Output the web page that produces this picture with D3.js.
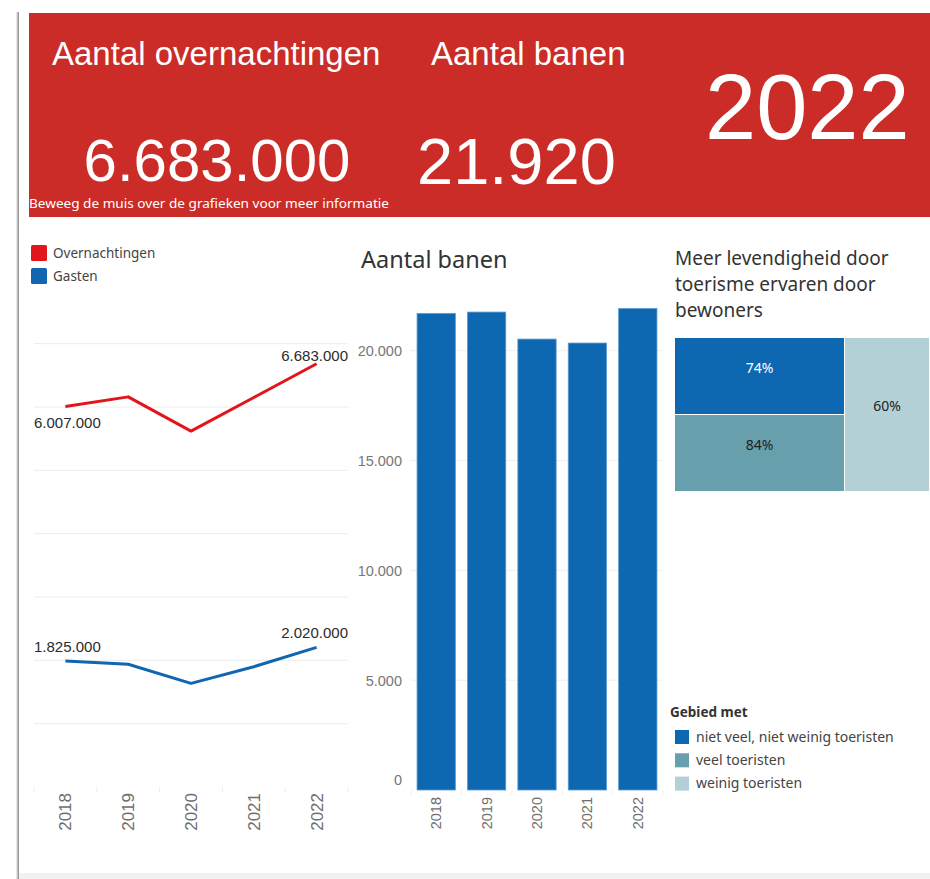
<!DOCTYPE html>
<html><head><meta charset="utf-8">
<script src="https://cdn.jsdelivr.net/npm/d3@7"></script>
<style>body{margin:0;background:#fff;} svg{display:block}</style>
</head><body><svg id="c" width="930" height="879"></svg>
<script>
// ---------- data ----------
const years = ["2018", "2019", "2020", "2021", "2022"];
const overnachtingen = [6007000, 6160000, 5620000, 6150000, 6683000];
const gasten = [1825000, 1776000, 1500000, 1741000, 2020000];
const banen = [21700, 21760, 20530, 20350, 21920];
const banenTicks = [0, 5000, 10000, 15000, 20000];
const lineGridValues = [1000000, 2000000, 3000000, 4000000, 5000000, 6000000, 7000000];
const seriesNames = ["Overnachtingen", "Gasten"];
const treemapCategories = ["niet veel, niet weinig toeristen", "veel toeristen", "weinig toeristen"];
const treemapValues = [0.74, 0.84, 0.60];
const kpiTitles = ["Aantal overnachtingen", "Aantal banen"];
const kpiValues = [6683000, 21920];
const selectedYear = "2022";
const headerNote = "Beweeg de muis over de grafieken voor meer informatie";
const barTitle = "Aantal banen";
const treemapTitle = ["Meer levendigheid door", "toerisme ervaren door", "bewoners"];
const legendTitle = "Gebied met";

// ---------- setup ----------
const nl = d3.formatLocale({decimal: ",", thousands: ".", grouping: [3], currency: ["€", ""]});
const fmt = nl.format(",d");
const pct = nl.format(".0%");
const svg = d3.select("#c");
const ARIAL = "'Liberation Sans', Arial, sans-serif";
const TAB = "'Noto Sans', Lato, sans-serif";
const RED = "#e2141c", BLUE = "#1265b0";

// page frame
svg.append("rect").attr("x", 0).attr("y", 0).attr("width", 930).attr("height", 879).attr("fill", "#fff");
svg.append("rect").attr("x", 16.5).attr("y", 12).attr("width", 1).attr("height", 867).attr("fill", "#cfcfcf");
svg.append("rect").attr("x", 17.5).attr("y", 12).attr("width", 1.5).attr("height", 867).attr("fill", "#9a9a9a");
svg.append("rect").attr("x", 19).attr("y", 873).attr("width", 911).attr("height", 6).attr("fill", "#f1f1f1");

// ---------- header ----------
svg.append("rect").attr("x", 29).attr("y", 13).attr("width", 901).attr("height", 204).attr("fill", "#cb2c27");
const hdr = svg.append("g").attr("fill", "#fff").attr("font-family", ARIAL);
hdr.append("text").attr("x", 52).attr("y", 65).attr("font-size", 33).text(kpiTitles[0]);
hdr.append("text").attr("x", 431).attr("y", 65).attr("font-size", 33).text(kpiTitles[1]);
hdr.append("text").attr("x", 217).attr("y", 181).attr("text-anchor", "middle").attr("font-size", 60).text(fmt(kpiValues[0]));
hdr.append("text").attr("x", 417).attr("y", 184).attr("font-size", 65).text(fmt(kpiValues[1]));
hdr.append("text").attr("x", 705).attr("y", 139).attr("font-size", 92).text(selectedYear);
hdr.append("text").attr("x", 29).attr("y", 207.5).attr("font-size", 12.5).attr("font-family", TAB)
  .attr("textLength", 360).attr("lengthAdjust", "spacingAndGlyphs").text(headerNote);

// ---------- line chart ----------
const xL = d3.scaleBand().domain(years).range([34, 348]);
const yRed = d3.scaleLinear().domain([0, 7200000]).range([787, 331]);
const yBlue = d3.scaleLinear().domain([0, 6600000]).range([787, 331]);
const gL = svg.append("g");
gL.selectAll("line.grid").data(lineGridValues).join("line")
  .attr("x1", 34).attr("x2", 348).attr("y1", d => yRed(d)).attr("y2", d => yRed(d))
  .attr("stroke", "#ececec").attr("stroke-width", 1);
// x axis
const axL = gL.append("g").attr("transform", "translate(0,788)")
  .call(d3.axisBottom(xL).tickSize(0).tickPadding(6));
axL.select(".domain").remove();
axL.selectAll("text").attr("transform", "rotate(-90)").attr("text-anchor", "end")
  .attr("x", -5).attr("y", 0).attr("dy", "0.35em")
  .attr("font-family", ARIAL).attr("font-size", 17).attr("fill", "#6e6e6e");
gL.selectAll("line.sep").data(years.concat(["end"])).join("line")
  .attr("x1", (d, i) => 34 + i * xL.step()).attr("x2", (d, i) => 34 + i * xL.step())
  .attr("y1", 787).attr("y2", 792).attr("stroke", "#eeeeee");

const series = [
  {name: seriesNames[0], values: overnachtingen, y: yRed, color: RED, place: ["below", "above"], up: 3},
  {name: seriesNames[1], values: gasten, y: yBlue, color: BLUE, place: ["above", "above"], up: 9}
];
const line = (s) => d3.line().x((d, i) => xL(years[i]) + xL.bandwidth() / 2).y(d => s.y(d));
series.forEach(s => {
  gL.append("path").datum(s.values).attr("d", line(s)).attr("fill", "none")
    .attr("stroke", s.color).attr("stroke-width", 3).attr("stroke-linejoin", "round");
  [0, s.values.length - 1].forEach((idx, k) => {
    const px = xL(years[idx]) + xL.bandwidth() / 2, py = s.y(s.values[idx]);
    const t = gL.append("text").attr("font-family", ARIAL).attr("font-size", 15).attr("fill", "#2b2b2b")
      .text(fmt(s.values[idx]));
    const w = t.node().getComputedTextLength();
    let x0 = Math.max(34, Math.min(348 - w, px - w / 2));
    t.attr("x", x0).attr("y", s.place[k] === "below" ? py + 21 : py - s.up);
  });
});
// legend
const lg = svg.append("g");
series.forEach((s, i) => {
  lg.append("rect").attr("x", 31).attr("y", 245 + i * 23).attr("width", 16).attr("height", 16).attr("rx", 1.5).attr("fill", s.color);
  lg.append("text").attr("x", 53).attr("y", 258 + i * 23).attr("font-family", TAB).attr("font-size", 13.5)
    .attr("fill", "#444").text(s.name);
});

// ---------- bar chart ----------
const xB = d3.scaleBand().domain(years).range([411, 663]).paddingInner(0.24).paddingOuter(0.12);
const yB = d3.scaleLinear().domain([0, 22300]).range([790, 300.2]);
const gB = svg.append("g");
gB.append("text").attr("x", 361).attr("y", 268).attr("font-family", TAB).attr("font-size", 23.5)
  .attr("fill", "#333").text(barTitle);
gB.selectAll("line.grid").data(banenTicks.slice(1)).join("line")
  .attr("x1", 410).attr("x2", 663).attr("y1", d => yB(d)).attr("y2", d => yB(d)).attr("stroke", "#efefef");
const ayB = gB.append("g").attr("transform", "translate(404,0)")
  .call(d3.axisLeft(yB).tickValues(banenTicks).tickFormat(fmt).tickSize(0).tickPadding(2));
ayB.select(".domain").remove();
ayB.selectAll("text").attr("font-family", ARIAL).attr("font-size", 14.5).attr("fill", "#777")
  .attr("dy", d => d === 0 ? "-0.35em" : "0.35em");
gB.selectAll("rect.bar").data(banen).join("rect")
  .attr("x", (d, i) => xB(years[i])).attr("width", xB.bandwidth())
  .attr("y", d => yB(d)).attr("height", d => yB(0) - yB(d))
  .attr("fill", "#0e67b1").attr("stroke", "#5f9bd0").attr("stroke-width", 0.8);
gB.selectAll("line.sep").data(years.concat(["end"])).join("line")
  .attr("x1", (d, i) => 411 + i * xB.step()).attr("x2", (d, i) => 411 + i * xB.step())
  .attr("y1", 790).attr("y2", 795).attr("stroke", "#eeeeee");
const axB = gB.append("g").attr("transform", "translate(0,790)")
  .call(d3.axisBottom(xB).tickSize(0).tickPadding(6));
axB.select(".domain").remove();
axB.selectAll("text").attr("transform", "rotate(-90)").attr("text-anchor", "end")
  .attr("x", -7).attr("y", 0).attr("dy", "0.35em")
  .attr("font-family", ARIAL).attr("font-size", 14.5).attr("fill", "#6e6e6e");

// ---------- treemap ----------
const gT = svg.append("g");
treemapTitle.forEach((l, i) => gT.append("text").attr("x", 675).attr("y", 265 + i * 26)
  .attr("font-family", TAB).attr("font-size", 19).attr("fill", "#333").text(l));
const tmColors = d3.scaleOrdinal().domain(treemapCategories).range(["#0e67b1", "#679fad", "#b3d0d7"]);
const tmText = d3.scaleOrdinal().domain(treemapCategories).range(["#fff", "#222", "#222"]);
const root = d3.hierarchy({children: [
  {children: [{cat: treemapCategories[0], v: treemapValues[0]}, {cat: treemapCategories[1], v: treemapValues[1]}]},
  {children: [{cat: treemapCategories[2], v: treemapValues[2]}]}
]}).sum(d => d.children ? 0 : 1);
d3.treemap().tile(d3.treemapSliceDice).size([254, 153]).paddingInner(1)(root);
const cells = gT.append("g").attr("transform", "translate(675,338)")
  .selectAll("g").data(root.leaves()).join("g");
cells.append("rect").attr("x", d => d.x0).attr("y", d => d.y0)
  .attr("width", d => d.x1 - d.x0).attr("height", d => d.y1 - d.y0).attr("fill", d => tmColors(d.data.cat));
cells.append("text").attr("x", d => (d.x0 + d.x1) / 2).attr("y", d => (d.y0 + d.y1) / 2 - 8)
  .attr("text-anchor", "middle").attr("dy", "0.35em").attr("font-family", TAB).attr("font-size", 14)
  .attr("fill", d => tmText(d.data.cat)).text(d => pct(d.data.v));

// legend
const gLg = svg.append("g");
gLg.append("text").attr("x", 670).attr("y", 717).attr("font-family", TAB).attr("font-size", 13.5)
  .attr("font-weight", "bold").attr("fill", "#333").text(legendTitle);
treemapCategories.forEach((c, i) => {
  gLg.append("rect").attr("x", 675).attr("y", 730 + i * 23.3).attr("width", 14).attr("height", 14).attr("fill", tmColors(c));
  gLg.append("text").attr("x", 696).attr("y", 741.5 + i * 23.3).attr("font-family", TAB).attr("font-size", 14)
    .attr("fill", "#444").text(c);
});
</script>
</body></html>
